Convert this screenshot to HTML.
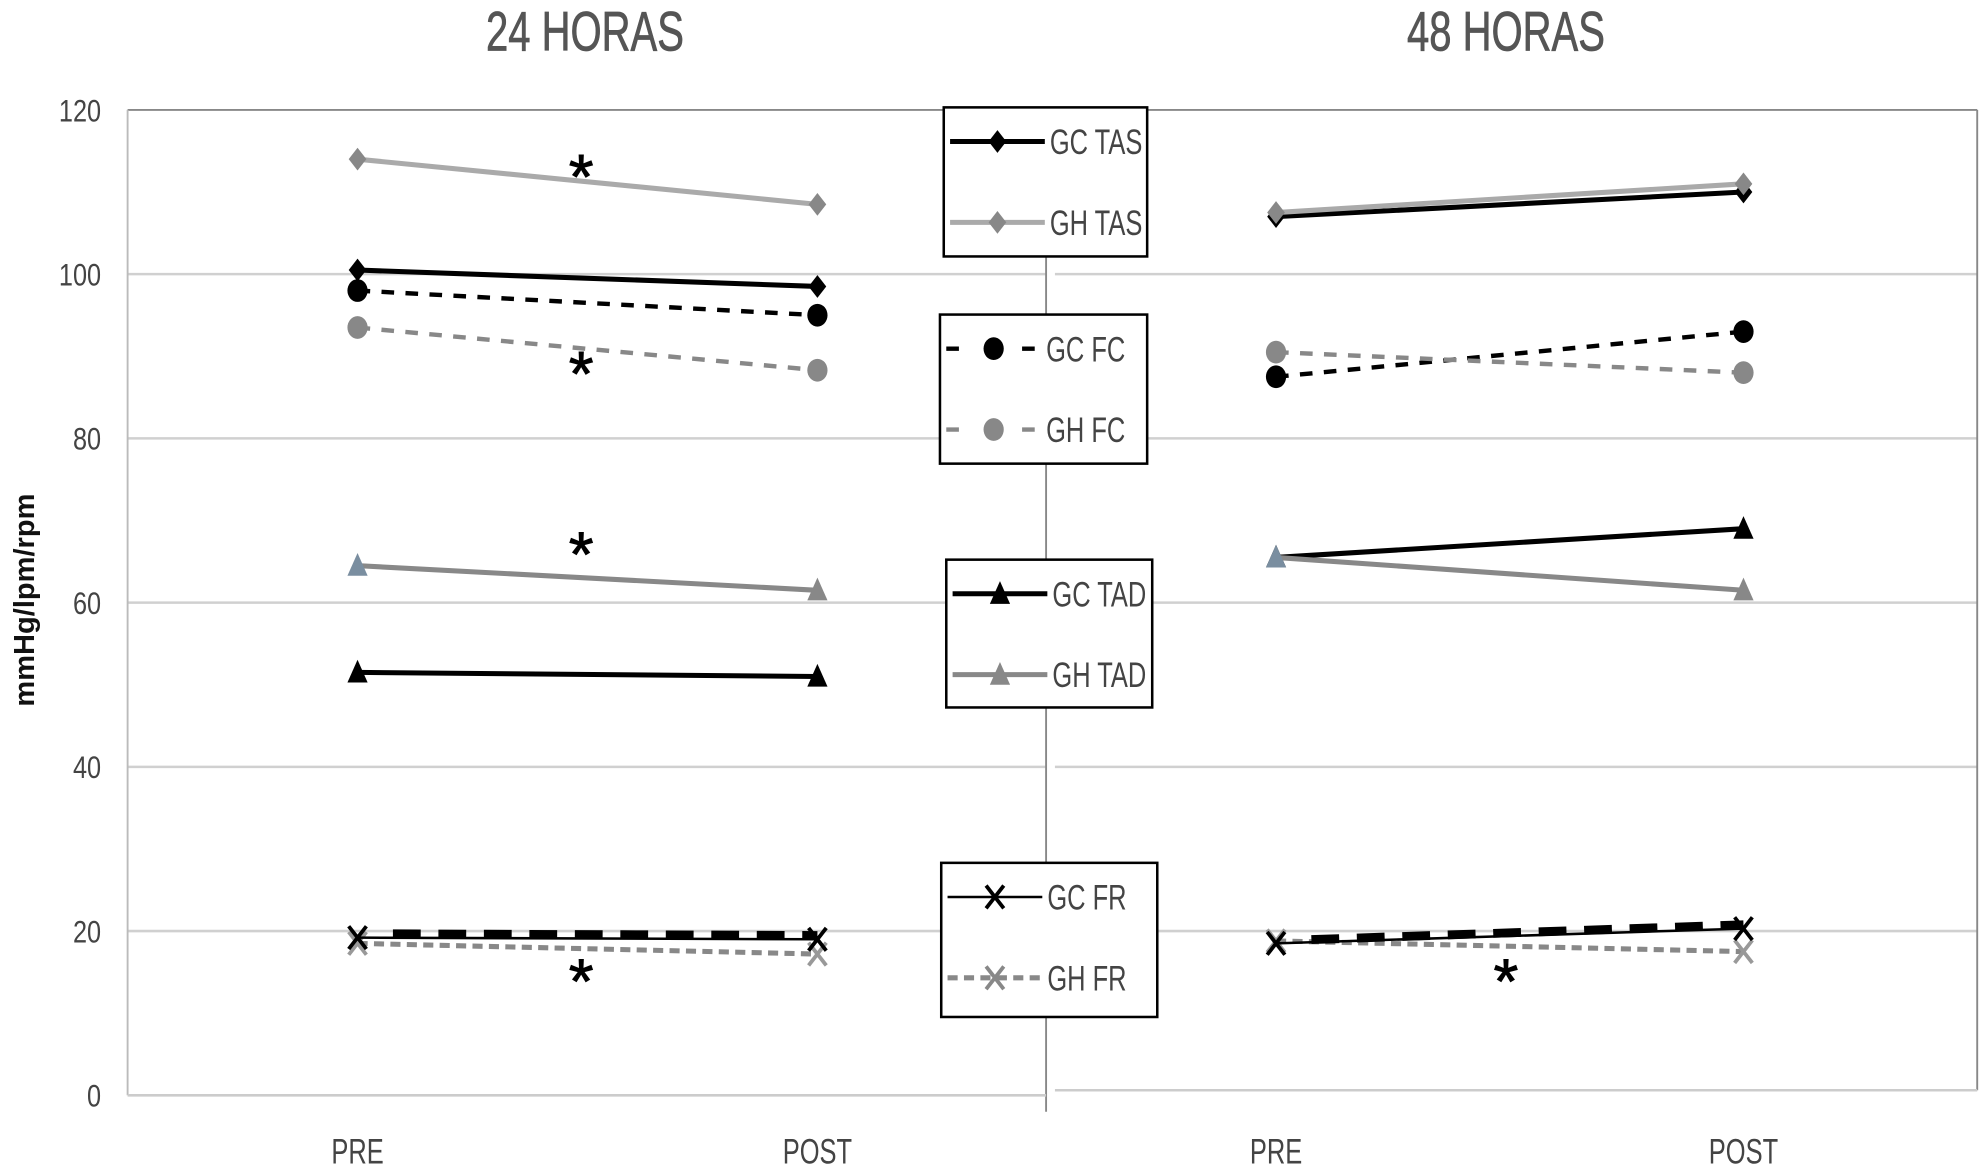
<!DOCTYPE html>
<html><head><meta charset="utf-8"><style>
html,body{margin:0;padding:0;background:#fff;}
svg{display:block;font-family:"Liberation Sans",sans-serif;}
.t{fill:#444;}
</style></head><body>
<svg id="chart" width="1981" height="1173" viewBox="0 0 1568 928.5" preserveAspectRatio="none" xmlns="http://www.w3.org/2000/svg">
<g id="frame"></g>
<g id="series"></g>
<g id="legend"></g>
</svg>
<script>
const NS="http://www.w3.org/2000/svg";
const yTicks=[0,20,40,60,80,100,120];
const xCats=["PRE","POST"];
const panelTitles=["24 HORAS","48 HORAS"];
// panel 1 (24h) values [PRE, POST]
const p1_gcTas=[100.5,98.5], p1_ghTas=[114,108.5], p1_gcFc=[98,95], p1_ghFc=[93.5,88.3];
const p1_gcTad=[51.5,51], p1_ghTad=[64.5,61.5], p1_gcFr=[19.2,19], p1_ghFr=[18.5,17.2];
// panel 2 (48h)
const p2_gcTas=[107,110], p2_ghTas=[107.5,111], p2_gcFc=[87.5,93], p2_ghFc=[90.5,88];
const p2_gcTad=[65.5,69], p2_ghTad=[65.5,61.5], p2_gcFr=[18.5,20.3], p2_ghFr=[18.8,17.5];
const asterisks1=[112,88,66,14];
const asterisks2=[14];

function y(v){return 867-v*6.5;}
const panels=[{x0:101,x1:828,xs:[283,647]},{x0:835,x1:1565,xs:[1010,1380]}];
function X(p,i){return panels[p].xs[i];}
function el(parent,tag,attrs,name,inter){const e=document.createElementNS(NS,tag);for(const k in attrs)e.setAttribute(k,attrs[k]);


parent.appendChild(e);return e;}
const F=document.getElementById('frame'),S=document.getElementById('series'),L=document.getElementById('legend');

yTicks.forEach(v=>{ if(v>0&&v<120){panels.forEach((p,pi)=>el(F,'line',{x1:p.x0,x2:p.x1,y1:y(v),y2:y(v),stroke:'#d0d0d0','stroke-width':2},'gridline-'+v,false));}
 const t=el(F,'text',{x:80,y:y(v)+9,'text-anchor':'end','font-size':25,class:'t',transform:`translate(80 ${y(v)+9}) scale(0.8 1) translate(-80 ${-(y(v)+9)})`},'y-tick-label',false);t.textContent=v;});
el(F,'line',{x1:101,x2:1565,y1:87,y2:87,stroke:'#888','stroke-width':1.5},'plot-top-border',false);
el(F,'line',{x1:101,x2:101,y1:87,y2:867,stroke:'#bbb','stroke-width':1.5},'plot-left-border',false);
el(F,'line',{x1:1565,x2:1565,y1:87,y2:863,stroke:'#888','stroke-width':1.5},'plot-right-border',false);
el(F,'line',{x1:828,x2:828,y1:87,y2:880,stroke:'#888','stroke-width':1.5},'panel-divider',false);
el(F,'line',{x1:101,x2:828,y1:867,y2:867,stroke:'#ccc','stroke-width':2},'x-axis-left',false);
el(F,'line',{x1:835,x2:1565,y1:863,y2:863,stroke:'#ccc','stroke-width':2},'x-axis-right',false);
[463,1192].forEach((cx,i)=>{const t=el(F,'text',{x:cx,y:40,'text-anchor':'middle','font-size':44,fill:'#555',stroke:'#555','stroke-width':0.6,transform:`translate(${cx} 0) scale(0.72 1) translate(${-cx} 0)`},'panel-title',false);t.textContent=panelTitles[i];});
panels.forEach((p,pi)=>xCats.forEach((c,i)=>{const cx=p.xs[i];const t=el(F,'text',{x:cx,y:921,'text-anchor':'middle','font-size':28,fill:'#444',transform:`translate(${cx} 0) scale(0.72 1) translate(${-cx} 0)`},'x-tick-label',false);t.textContent=c;}));
const yt=el(F,'text',{x:0,y:0,'text-anchor':'middle','font-size':23,'font-weight':'bold',fill:'#111',transform:'translate(27 475) rotate(-90)'},'y-axis-title',false);yt.textContent='mmHg/lpm/rpm';

function marker(g,type,cx,cy,color,name){
 if(type==='d') el(g,'polygon',{points:`${cx},${cy-9} ${cx+7},${cy} ${cx},${cy+9} ${cx-7},${cy}`,fill:color},name,false);
 else if(type==='c') el(g,'ellipse',{cx,cy,rx:8,ry:9,fill:color},name,false);
 else if(type==='t') el(g,'polygon',{points:`${cx},${cy-10} ${cx+8},${cy+8} ${cx-8},${cy+8}`,fill:color},name,false);
 else if(type==='x'){el(g,'path',{d:`M${cx-7} ${cy-9}L${cx+7} ${cy+9}M${cx+7} ${cy-9}L${cx-7} ${cy+9}`,stroke:color,'stroke-width':3,fill:'none'},name,false);}
}
const seriesDefs=[
 ['gc-tas',p1_gcTas,p2_gcTas,'#000',4,null,'d'],
 ['gh-tas',p1_ghTas,p2_ghTas,'#aaa',4,null,'d'],
 ['gc-fc',p1_gcFc,p2_gcFc,'#000',3.5,'10 9','c'],
 ['gh-fc',p1_ghFc,p2_ghFc,'#888',3.5,'10 9','c'],
 ['gc-tad',p1_gcTad,p2_gcTad,'#000',4,null,'t'],
 ['gh-tad',p1_ghTad,p2_ghTad,'#888',4,null,'t'],
 ['gh-fr',p1_ghFr,p2_ghFr,'#888',4,'8 5','x'],
 ['gc-fr',p1_gcFr,p2_gcFr,'#000',2,null,'x']
];
seriesDefs.forEach(([nm,a,b,col,w,dash,mk])=>{
 [a,b].forEach((vals,pi)=>{
  const g=el(S,'g',{},'series-'+nm+'-'+(pi?'48h':'24h'),false);
  const attrs={x1:X(pi,0),y1:y(vals[0]),x2:X(pi,1),y2:y(vals[1]),stroke:col,'stroke-width':w};
  if(dash)attrs['stroke-dasharray']=dash;
  el(g,'line',attrs,'line-'+nm,false);
  if(nm==='gc-fr'){el(g,'line',{x1:X(pi,0)+28,y1:y(vals[0])-3,x2:X(pi,1),y2:y(vals[1])-3,stroke:'#000','stroke-width':7,'stroke-dasharray':'22 14'},'line-gc-fr-dash',false);}
  vals.forEach((v,i)=>{let c=col; if(nm==='gh-tas'||nm==='gh-tad'||nm==='gh-fc')c='#888'; if(nm==='gh-fr')c='#999';
   if(nm==='gh-tad'&&i===0)c='#7a8ea0';
   marker(g,mk,X(pi,i),y(v),c,'marker-'+nm);});
 });
});
asterisks1.forEach(v=>{const t=el(S,'text',{x:460,y:y(v)+18,'text-anchor':'middle','font-size':50,fill:'#000',stroke:'#000','stroke-width':0.8},'significance-asterisk',false);t.textContent='*';});
asterisks2.forEach(v=>{const t=el(S,'text',{x:1192,y:y(v)+18,'text-anchor':'middle','font-size':50,fill:'#000',stroke:'#000','stroke-width':0.8},'significance-asterisk',false);t.textContent='*';});

const legBoxes=[[747,85,161,118],[744,249,164,118],[749,443,163,117],[745,683,171,122]];
const legItems=[
 [0,'GC TAS','#000',null,'d',4],[0,'GH TAS','#aaa',null,'d',4],
 [1,'GC FC','#000','10 20','c',3.5],[1,'GH FC','#888','10 20','c',3.5],
 [2,'GC TAD','#000',null,'t',4],[2,'GH TAD','#888',null,'t',4],
 [3,'GC FR','#000',null,'x',2],[3,'GH FR','#888','8 5','x',4]];
legBoxes.forEach((b,i)=>{el(L,'rect',{x:b[0],y:b[1],width:b[2],height:b[3],fill:'#fff',stroke:'#000','stroke-width':2},'legend-box',false);});
legItems.forEach((it,k)=>{const b=legBoxes[it[0]];const row=k%2;const cy=b[1]+27+row*64;const x0=b[0]+5,x1=b[0]+80;
 const g=el(L,'g',{},'legend-entry-'+it[1].toLowerCase().replace(' ','-'),false);
 const a={x1:x0,x2:x1,y1:cy,y2:cy,stroke:it[2],'stroke-width':it[5]};if(it[3])a['stroke-dasharray']=it[3];
 el(g,'line',a,'legend-line',false);
 marker(g,it[4],(x0+x1)/2,cy,it[2]==='#aaa'?'#888':it[2],'legend-marker');
 const tx=b[0]+84;const t=el(g,'text',{x:tx,y:cy+10,'font-size':28,fill:'#444',transform:`translate(${tx} 0) scale(0.72 1) translate(${-tx} 0)`},'legend-label',false);t.textContent=it[1];});
</script>
</body></html>
